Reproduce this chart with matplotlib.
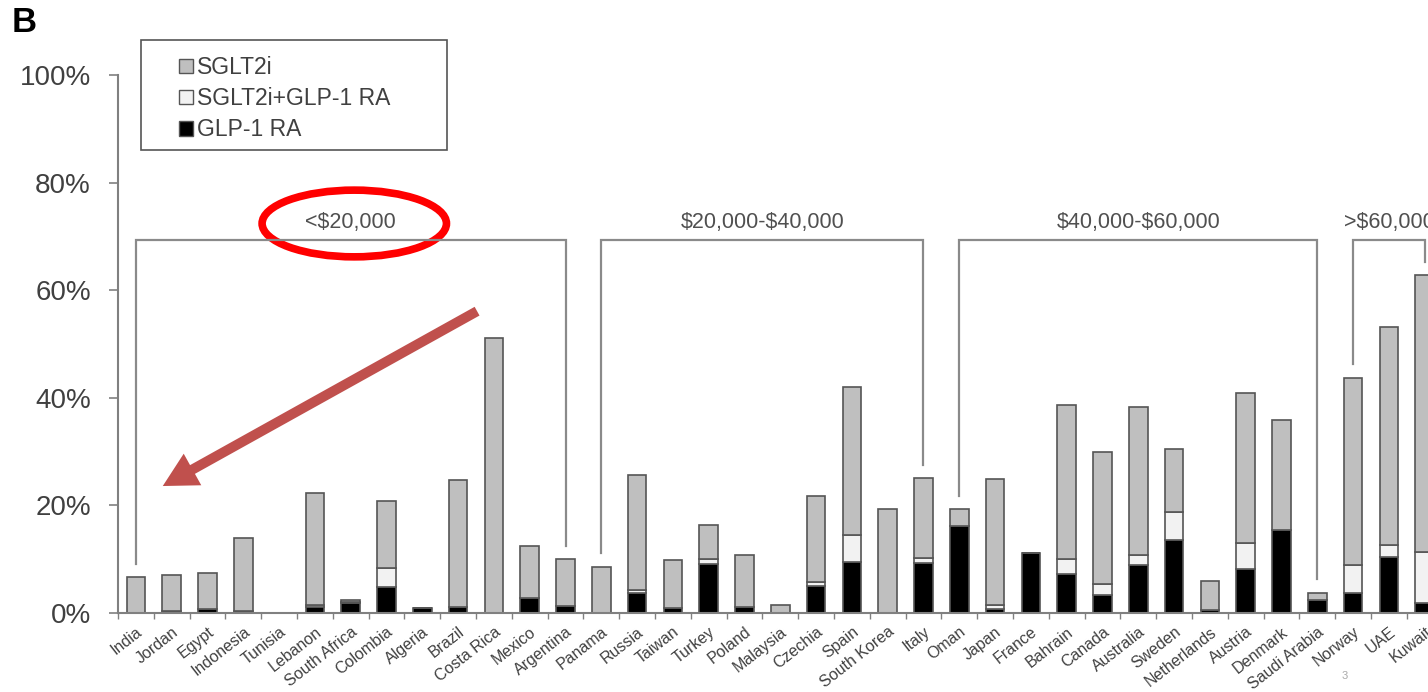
import numpy as np
import matplotlib
matplotlib.use("Agg")
import matplotlib.pyplot as plt
from matplotlib.patches import Patch, Ellipse, Rectangle

plt.rcParams['font.family'] = ['Liberation Sans', 'DejaVu Sans']
plt.rcParams['text.parse_math'] = False  # dollar signs are plain text here

# share of patients on each drug class, by country (%)
countries = ["India", "Jordan", "Egypt", "Indonesia", "Tunisia", "Lebanon", "South Africa",
             "Colombia", "Algeria", "Brazil", "Costa Rica", "Mexico", "Argentina",
             "Panama", "Russia", "Taiwan", "Turkey", "Poland", "Malaysia", "Czechia",
             "Spain", "South Korea", "Italy",
             "Oman", "Japan", "France", "Bahrain", "Canada", "Australia", "Sweden",
             "Netherlands", "Austria", "Denmark", "Saudi Arabia",
             "Norway", "UAE", "Kuwait"]
glp1 = [0.0, 0.3, 0.8, 0.3, 0.0, 1.2, 1.8, 4.9, 0.9, 1.1, 0.0, 2.7, 1.3,
        0.0, 3.7, 1.0, 9.1, 1.2, 0.0, 5.1, 9.4, 0.0, 9.3,
        16.1, 0.7, 11.2, 7.2, 3.4, 8.9, 13.6, 0.5, 8.2, 15.5, 2.4,
        3.8, 10.5, 1.8]
combo = [0.0, 0.0, 0.0, 0.0, 0.0, 0.3, 0.3, 3.4, 0.0, 0.0, 0.0, 0.0, 0.0,
         0.0, 0.5, 0.0, 1.0, 0.0, 0.0, 0.6, 5.1, 0.0, 1.0,
         0.0, 0.8, 0.0, 2.8, 2.0, 1.9, 5.1, 0.0, 4.8, 0.0, 0.0,
         5.1, 2.2, 9.6]
sglt2 = [6.6, 6.7, 6.7, 13.6, 0.0, 20.8, 0.3, 12.6, 0.0, 23.7, 51.2, 9.8, 8.7,
         8.6, 21.5, 8.9, 6.2, 9.6, 1.4, 16.1, 27.5, 19.3, 14.8,
         3.2, 23.5, 0.0, 28.7, 24.6, 27.5, 11.8, 5.5, 27.9, 20.3, 1.4,
         34.8, 40.4, 51.4]

# income brackets: first country, last country, label
groups = [(0, 12, "<$20,000"),
          (13, 22, "$20,000-$40,000"),
          (23, 33, "$40,000-$60,000"),
          (34, 36, ">$60,000")]

glp1 = np.array(glp1)
combo = np.array(combo)
sglt2 = np.array(sglt2)
total = glp1 + combo + sglt2
x = np.arange(len(countries))

W, H = 1428, 692
fig = plt.figure(figsize=(W / 100, H / 100), dpi=100)
# axes run past the right edge, so the last bar is cut off
ax = fig.add_axes([118 / W, 79 / H, 37 * 35.8 / W, 538 / H])

edge = "#555555"
bw = 0.52
ax.bar(x, glp1, bw, color="black", edgecolor=edge, linewidth=1.2)
ax.bar(x, combo, bw, bottom=glp1, color="#f2f2f2", edgecolor=edge, linewidth=1.2)
ax.bar(x, sglt2, bw, bottom=glp1 + combo, color="#bfbfbf", edgecolor=edge, linewidth=1.2)

ax.set_xlim(-0.5, len(countries) - 0.5)
ax.set_ylim(0, 100)
ax.set_yticks(np.arange(0, 101, 20))
ax.set_yticklabels([f"{v}%" for v in range(0, 101, 20)])
ax.tick_params(axis="y", length=6.5, width=1.2, color="#808080", pad=13,
               labelsize=20, labelcolor="#404040")

ax.set_xticks(x)
ax.set_xticklabels(countries, rotation=38, ha="right", va="top",
                   rotation_mode="anchor", fontsize=11.5, color="#404040")
ax.tick_params(axis="x", length=0, pad=8)
ax.set_xticks(np.arange(-0.5, len(countries), 1.0), minor=True)
ax.tick_params(axis="x", which="minor", length=4, width=1, color="#808080")

for s in ["top", "right"]:
    ax.spines[s].set_visible(False)
for s in ["left", "bottom"]:
    ax.spines[s].set_color("#808080")
    ax.spines[s].set_linewidth(1.5)

# brackets over each income group
top = 69.3
for a, b, label in groups:
    ax.plot([a, a, b, b], [total[a] + 2.5, top, top, total[b] + 2.5],
            color="#8a8a8a", lw=1.6, clip_on=False, solid_joinstyle="miter")
    ax.text((a + b) / 2, 72.6, label, ha="center", va="center",
            fontsize=15.5, color="#505050")

# highlight on the lowest income group
ax.add_patch(Ellipse((6.1, 72.4), 5.15, 12.4, fill=False, edgecolor="#ff0000",
                     lw=5.5, clip_on=False))
ax.annotate("", xy=(0.75, 23.6), xytext=(9.53, 56.1),
            arrowprops=dict(arrowstyle="simple,head_length=2.45,head_width=2.6,tail_width=0.72",
                            mutation_scale=10, color="#c0504d", lw=0,
                            shrinkA=0, shrinkB=0))

# legend with a hand-placed frame
fig.patches.append(Rectangle((141 / W, 1 - 150 / H), 306 / W, 110 / H,
                             transform=fig.transFigure, fill=False,
                             edgecolor="#555555", lw=1.2))
handles = [Patch(facecolor="#bfbfbf", edgecolor=edge, label="SGLT2i"),
           Patch(facecolor="#f2f2f2", edgecolor=edge, label="SGLT2i+GLP-1 RA"),
           Patch(facecolor="black", edgecolor=edge, label="GLP-1 RA")]
leg = fig.legend(handles=handles, loc="upper left", bbox_to_anchor=(179 / W, 1 - 56 / H),
                 fontsize=16.5, frameon=False,
                 handlelength=0.6, handleheight=0.6, handletextpad=0.2,
                 labelspacing=0.36, borderpad=0, borderaxespad=0)
for t in leg.get_texts():
    t.set_color("#404040")

fig.text(12 / W, 1 - 23 / H, "B", fontsize=25, fontweight="bold", va="center", ha="left")
fig.text(1345 / W, 1 - 676 / H, "3", fontsize=8, color="#aaaaaa", ha="center", va="center")

fig.savefig("out.png", dpi=100)
